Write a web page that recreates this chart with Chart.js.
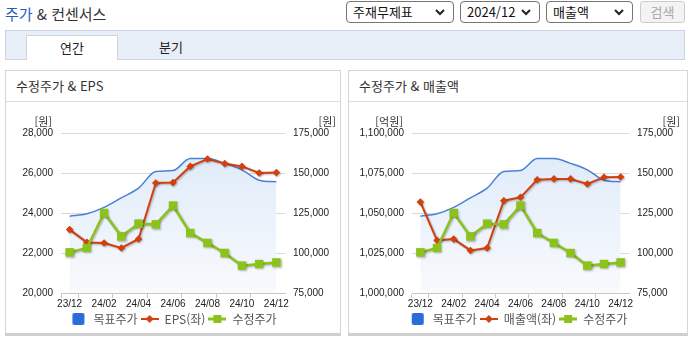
<!DOCTYPE html>
<html lang="ko">
<head>
<meta charset="utf-8">
<script src="https://cdn.jsdelivr.net/npm/chart.js@4.4.1/dist/chart.umd.min.js"></script>
<style>
  html, body { margin: 0; padding: 0; background: #fff; }
  body { width: 695px; height: 343px; position: relative; overflow: hidden;
         font-family: "Noto Sans CJK KR", "Noto Sans", sans-serif; color: #333; }
  .title { position: absolute; left: 5px; top: 3px; font-size: 15px; line-height: 22px; color: #333; }
  .title span { color: #1f5fc6; }
  .sel { position: absolute; top: 1px; height: 20px; border: 1px solid #767676; border-radius: 4px;
         font-size: 13px; line-height: 20px; color: #111; }
  .sel .txt { position: absolute; left: 6px; top: 0; }
  .sel svg { position: absolute; right: 8px; top: 7px; }
  .btn { position: absolute; top: 1px; left: 640px; width: 43px; height: 20px; border: 1px solid #ccc;
         border-radius: 3px; background: #f3f3f3; color: #a8a8a8; font-size: 13px; line-height: 20px; text-align: center; }
  .tabs { position: absolute; left: 5px; top: 30px; width: 678px; height: 28px; background: #e8eef8; border: 1px solid #ccd5e5; }
  .tab { position: absolute; top: 4px; height: 24px; font-size: 13px; line-height: 24px; text-align: center; color: #222; }
  .tab.on { left: 20px; width: 90px; background: #fff; border: 1px solid #ccd5e5; border-bottom: none; height: 24px; }
  .panel { position: absolute; top: 70px; height: 262px; border: 1px solid #d5d5d5; border-bottom: 3px solid #cfcfcf; }
  .panel h3 { margin: 0; height: 30px; line-height: 30px; font-size: 13px; font-weight: normal; padding-left: 10px;
              border-bottom: 1px solid #dcdcdc; color: #333; }
  canvas { position: absolute; }
</style>
</head>
<body>
<div class="title"><span>주가</span> &amp; 컨센서스</div>

<div class="sel" style="left:346px;width:106px"><span class="txt">주재무제표</span>
  <svg width="10" height="7"><polyline points="1,1 5,5 9,1" fill="none" stroke="#222" stroke-width="2"/></svg></div>
<div class="sel" style="left:460px;width:78px"><span class="txt">2024/12</span>
  <svg width="10" height="7"><polyline points="1,1 5,5 9,1" fill="none" stroke="#222" stroke-width="2"/></svg></div>
<div class="sel" style="left:546px;width:85px"><span class="txt">매출액</span>
  <svg width="10" height="7"><polyline points="1,1 5,5 9,1" fill="none" stroke="#222" stroke-width="2"/></svg></div>
<div class="btn">검색</div>

<div class="tabs">
  <div class="tab on">연간</div>
  <div class="tab" style="left:120px;width:90px">분기</div>
</div>

<div class="panel" style="left:5px;width:334px"><h3>수정주가 &amp; EPS</h3></div>
<div class="panel" style="left:348px;width:338px"><h3>수정주가 &amp; 매출액</h3></div>

<canvas id="epsChart" width="336" height="233" style="left:5px;top:102px"></canvas>
<canvas id="salesChart" width="340" height="233" style="left:348px;top:102px"></canvas>

<script>
const months = ['23/12', '24/01', '24/02', '24/03', '24/04', '24/05', '24/06',
                '24/07', '24/08', '24/09', '24/10', '24/11', '24/12']

// 목표주가 (원)
const targetPrice = [123000, 124500, 128500, 134500, 140500, 151000, 151500,
                     159000, 159000, 156000, 152000, 145500, 144500]
// 수정주가 (원)
const adjPrice = [100400, 103100, 125000, 110400, 118300, 117900, 129600,
                  112500, 106300, 100000, 92100, 93100, 94100]
// EPS (원)
const eps = [23170, 22530, 22500, 22250, 22700, 25500, 25520,
             26330, 26700, 26470, 26330, 26000, 26020]
// 매출액 (억원)
const sales = [1056900, 1032900, 1033700, 1026600, 1028100, 1057700, 1059800,
               1070800, 1071300, 1071300, 1068100, 1072300, 1072500]

const priceTicks = [75000, 100000, 125000, 150000, 175000]
const epsTicks = [20000, 22000, 24000, 26000, 28000]
const salesTicks = [1000000, 1025000, 1050000, 1075000, 1100000]

const BLUE = '#4a80d8'
const RED = '#d2400e'
const GREEN = '#8bc21c'
const numFont = { family: '"Liberation Sans Narrow", "Liberation Sans", Arial', size: 10 }

function marker (draw) {
  const c = document.createElement('canvas')
  c.width = 18
  c.height = 14
  draw(c.getContext('2d'))
  return c
}

const legendMarks = [
  marker(g => {
    g.fillStyle = '#2a6cd8'
    g.beginPath()
    g.roundRect(3, 1, 12, 12, 2)
    g.fill()
  }),
  marker(g => {
    g.strokeStyle = RED
    g.lineWidth = 2
    g.beginPath(); g.moveTo(0, 7); g.lineTo(18, 7); g.stroke()
    g.fillStyle = RED
    g.beginPath(); g.moveTo(9, 3); g.lineTo(13, 7); g.lineTo(9, 11); g.lineTo(5, 7); g.closePath(); g.fill()
  }),
  marker(g => {
    g.strokeStyle = GREEN
    g.lineWidth = 3
    g.beginPath(); g.moveTo(0, 7); g.lineTo(18, 7); g.stroke()
    g.fillStyle = GREEN
    g.fillRect(5, 3, 8, 8)
  })
]

const shadowPlugin = {
  id: 'lineShadow',
  beforeDatasetDraw (chart, args) {
    if (args.index === 0) return
    const c = chart.ctx
    c.save()
    c.shadowColor = 'rgba(0,0,0,0.28)'
    c.shadowBlur = 2
    c.shadowOffsetX = 1
    c.shadowOffsetY = 1
  },
  afterDatasetDraw (chart, args) {
    if (args.index === 0) return
    chart.ctx.restore()
  }
}

const unitPlugin = {
  id: 'units',
  afterDraw (chart, args, opts) {
    const { ctx, chartArea } = chart
    ctx.save()
    ctx.font = '11px "Noto Sans CJK KR"'
    ctx.fillStyle = '#333'
    ctx.textAlign = 'right'
    ctx.textBaseline = 'middle'
    ctx.fillText(opts.left, chartArea.left - 9, chartArea.top - 11)
    ctx.fillText(opts.right, chartArea.right + 51, chartArea.top - 11)
    ctx.restore()
  }
}

function fillGradient (context) {
  const area = context.chart.chartArea
  if (!area) return 'rgba(0,0,0,0)'
  const g = context.chart.ctx.createLinearGradient(0, area.top, 0, area.bottom)
  g.addColorStop(0, '#dce9f9')
  g.addColorStop(1, '#f8fafd')
  return g
}

function makeChart (id, leftLabel, leftData, leftTicks, leftUnit, leftWidth, rightWidth) {
  const data = {
    labels: months,
    datasets: [
      {
        label: '목표주가',
        data: targetPrice,
        yAxisID: 'y1',
        borderColor: BLUE,
        borderWidth: 1.5,
        backgroundColor: fillGradient,
        fill: 'start',
        pointRadius: 0,
        cubicInterpolationMode: 'monotone',
        order: 3
      },
      {
        label: leftLabel,
        data: leftData,
        yAxisID: 'y',
        borderColor: RED,
        backgroundColor: RED,
        borderWidth: 2,
        pointStyle: 'rectRot',
        pointRadius: 3.8,
        pointBorderWidth: 0,
        tension: 0,
        order: 2
      },
      {
        label: '수정주가',
        data: adjPrice,
        yAxisID: 'y1',
        borderColor: GREEN,
        backgroundColor: GREEN,
        borderWidth: 2.5,
        pointStyle: 'rect',
        pointRadius: 6,
        pointBorderWidth: 0,
        tension: 0,
        order: 1
      }
    ]
  }

  const options = {
    responsive: false,
    animation: false,
    layout: { padding: { top: 31, left: 0, right: 0, bottom: 0 } },
    scales: {
      x: {
        offset: true,
        grid: {
          offset: true,
          drawOnChartArea: false,
          tickLength: 5,
          color: ctx => (ctx.index === 0 || ctx.index % 2 === 1) ? '#c8c8c8' : 'rgba(0,0,0,0)'
        },
        border: { color: '#c8c8c8' },
        ticks: {
          autoSkip: false,
          maxRotation: 0,
          padding: 0,
          color: '#222',
          font: numFont,
          callback: (v, i) => i % 2 === 0 ? months[i] : ''
        },
        afterFit: s => { s.height = 17 }
      },
      y: {
        position: 'left',
        min: leftTicks[0],
        max: leftTicks[leftTicks.length - 1],
        grid: { color: '#d9d9d9', drawTicks: false },
        border: { display: false },
        ticks: {
          stepSize: leftTicks[1] - leftTicks[0],
          padding: 8,
          color: '#222',
          font: numFont,
          callback: v => v.toLocaleString('en-US')
        },
        afterFit: s => { s.width = leftWidth }
      },
      y1: {
        position: 'right',
        min: priceTicks[0],
        max: priceTicks[priceTicks.length - 1],
        grid: { drawOnChartArea: false, drawTicks: false },
        border: { display: false },
        ticks: {
          stepSize: priceTicks[1] - priceTicks[0],
          padding: 8,
          color: '#222',
          font: numFont,
          callback: v => v.toLocaleString('en-US')
        },
        afterFit: s => { s.width = rightWidth }
      }
    },
    plugins: {
      tooltip: { enabled: false },
      units: { left: leftUnit, right: '[원]' },
      legend: {
        position: 'bottom',
        labels: {
          usePointStyle: true,
          pointStyleWidth: 18,
          padding: 3,
          color: '#555',
          font: { family: '"Noto Sans CJK KR"', size: 12 },
          generateLabels: chart => chart.data.datasets.map((ds, i) => ({
            text: ds.label,
            pointStyle: legendMarks[i],
            fillStyle: ds.borderColor,
            strokeStyle: ds.borderColor,
            lineWidth: 0,
            fontColor: '#555',
            hidden: false,
            datasetIndex: i
          }))
        }
      }
    }
  }

  return new Chart(document.getElementById(id), {
    type: 'line',
    data: data,
    options: options,
    plugins: [shadowPlugin, unitPlugin]
  })
}

makeChart('epsChart', 'EPS(좌)', eps, epsTicks, '[원]', 56, 56)
makeChart('salesChart', '매출액(좌)', sales, salesTicks, '[억원]', 64, 59)
</script>
</body>
</html>
